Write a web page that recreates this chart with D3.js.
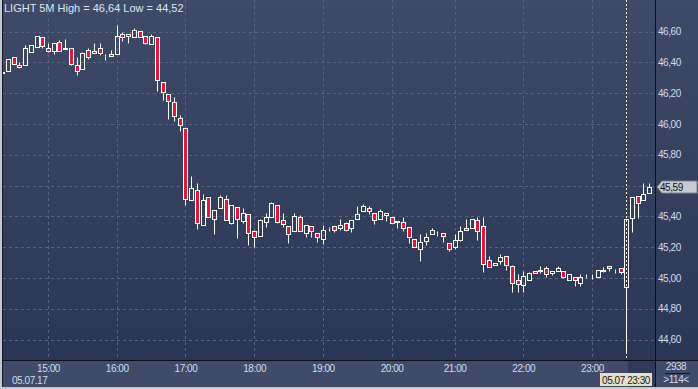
<!DOCTYPE html>
<html><head><meta charset="utf-8">
<script src="https://cdn.jsdelivr.net/npm/d3@7"></script>
<style>
html,body{margin:0;padding:0;background:#3f4b68;overflow:hidden}
svg{display:block}
text{font-family:"Liberation Sans",Arial,sans-serif;font-size:10px;letter-spacing:-0.45px}
text.title{font-size:11px;letter-spacing:0}
</style>
</head><body>
<svg id="c" width="698" height="389"></svg>
<script>
// ---- data (5-minute candles) ----
const opens=[46.33,46.345,46.433,46.38,46.38,46.47,46.497,46.562,46.49,46.471,
46.53,46.488,46.491,46.38,46.358,46.478,46.458,46.491,46.44,46.454,
46.456,46.584,46.571,46.566,46.603,46.571,46.519,46.562,46.27,46.192,
46.14,46.04,45.971,45.504,45.569,45.342,45.523,45.38,45.452,45.51,
45.358,45.462,45.369,45.413,45.303,45.27,45.361,45.397,45.471,45.374,
45.335,45.302,45.393,45.29,45.335,45.29,45.251,45.322,45.335,45.322,
45.355,45.322,45.38,45.432,45.452,45.419,45.38,45.41,45.393,45.361,
45.361,45.332,45.251,45.19,45.242,45.283,45.29,45.29,45.227,45.203,
45.246,45.322,45.322,45.376,45.335,45.116,45.082,45.112,45.14,45.077,
44.984,44.952,44.986,45.043,45.043,45.062,45.03,45.047,45.043,44.988,
45.004,44.967,45.008,44.993,45.004,45.043,45.077,45.043,45.062,44.943,
45.391,45.532,45.504,45.549];
const highs=[46.345,46.42,46.433,46.40,46.51,46.51,46.571,46.562,46.523,46.523,
46.545,46.551,46.491,46.433,46.47,46.493,46.523,46.523,46.454,46.48,
46.642,46.60,46.582,46.62,46.603,46.571,46.584,46.562,46.27,46.192,
46.173,46.058,45.971,45.662,45.614,45.545,45.523,45.439,45.536,45.536,
45.471,45.462,45.456,45.413,45.311,45.38,45.424,45.49,45.471,45.42,
45.335,45.42,45.41,45.342,45.335,45.29,45.342,45.332,45.335,45.38,
45.365,45.374,45.467,45.48,45.467,45.419,45.445,45.419,45.393,45.371,
45.393,45.332,45.251,45.285,45.29,45.322,45.307,45.29,45.227,45.283,
45.337,45.382,45.38,45.393,45.398,45.142,45.097,45.153,45.14,45.086,
45.023,45.043,45.04,45.043,45.075,45.077,45.043,45.077,45.043,45.027,
45.004,45.027,45.027,45.027,45.049,45.069,45.077,45.055,45.062,45.38,
45.525,45.532,45.614,45.614];
const lows=[46.325,46.345,46.39,46.365,46.38,46.47,46.497,46.493,46.467,46.456,
46.475,46.488,46.385,46.318,46.358,46.42,46.458,46.45,46.413,46.44,
46.456,46.54,46.527,46.566,46.562,46.519,46.519,46.216,46.155,46.03,
46.021,45.956,45.471,45.504,45.32,45.342,45.396,45.283,45.452,45.376,
45.35,45.26,45.358,45.212,45.203,45.27,45.333,45.393,45.355,45.333,
45.229,45.302,45.302,45.268,45.264,45.235,45.22,45.302,45.30,45.311,
45.305,45.30,45.38,45.432,45.415,45.35,45.38,45.371,45.354,45.322,
45.307,45.229,45.203,45.112,45.212,45.283,45.27,45.231,45.177,45.19,
45.242,45.309,45.322,45.246,45.04,45.073,45.082,45.09,45.053,44.91,
44.91,44.91,44.986,45.03,45.03,45.008,45.02,45.047,44.997,44.988,
44.949,44.949,44.997,44.993,45.004,45.036,45.047,45.03,45.027,44.52,
45.3,45.391,45.504,45.549];
const closes=[46.34,46.42,46.39,46.367,46.49,46.51,46.571,46.506,46.475,46.523,
46.475,46.492,46.391,46.345,46.458,46.436,46.471,46.458,46.441,46.44,
46.571,46.562,46.582,46.608,46.562,46.527,46.571,46.283,46.209,46.151,
46.051,45.99,45.51,45.582,45.354,45.504,45.396,45.439,45.523,45.376,
45.471,45.38,45.419,45.291,45.264,45.374,45.393,45.484,45.361,45.352,
45.283,45.40,45.302,45.342,45.302,45.264,45.309,45.322,45.309,45.342,
45.309,45.374,45.413,45.465,45.432,45.374,45.434,45.419,45.354,45.371,
45.322,45.267,45.203,45.231,45.264,45.309,45.29,45.27,45.19,45.244,
45.303,45.309,45.38,45.307,45.092,45.073,45.097,45.136,45.082,44.969,
44.962,45.012,45.03,45.03,45.051,45.023,45.043,45.062,45.008,45.027,
44.984,45.006,45.008,44.993,45.049,45.049,45.062,45.043,45.038,45.38,
45.525,45.488,45.545,45.59];
const startTime="14:20";
const missingSlots=["20:30"];
const priceTicks=[44.6,44.8,45.0,45.2,45.4,45.6,45.8,46.0,46.2,46.4,46.6];
const titleText="LIGHT 5M High = 46,64 Low = 44,52";
const dateText="05.07.17";
const cursorTime="23:30";
const cursorText="05.07 23:30";
const lastPrice=45.59;
const barCountText="2938";
const visibleText=">114<";

// ---- build time categories ----
const times=[];
{ let [h,m]=startTime.split(":").map(Number); let t=h*60+m;
  while(times.length<opens.length){
    const s=String(Math.floor(t/60)).padStart(2,"0")+":"+String(t%60).padStart(2,"0");
    if(!missingSlots.includes(s)) times.push(s);
    t+=5;
  } }
const candles=times.map((t,i)=>({t,o:opens[i],h:highs[i],l:lows[i],c:closes[i]}));
const hourTimes=times.filter(t=>t.endsWith(":00"));

const W=698,H=389, plotL=3, plotR=655, plotB=360;
const svg=d3.select("#c");
const defs=svg.append("defs");
const g=defs.append("linearGradient").attr("id","bg").attr("x1",0).attr("y1",0).attr("x2",0).attr("y2",1);
g.append("stop").attr("offset","0%").attr("stop-color","#3e4a67");
g.append("stop").attr("offset","100%").attr("stop-color","#2a3655");
defs.append("clipPath").attr("id","plot").append("rect").attr("x",plotL).attr("y",0).attr("width",plotR-plotL).attr("height",plotB);

svg.append("rect").attr("width",W).attr("height",plotB).attr("fill","url(#bg)");
svg.append("rect").attr("y",plotB).attr("width",W).attr("height",H-plotB).attr("fill","#3f4b68");

const x=d3.scalePoint().domain(times).range([2.2,649.2]);
const y=d3.scaleLinear().domain([44.6,46.6]).range([339.5,31.5]);
const px=v=>Math.round(v)+0.5;

const plot=svg.append("g").attr("clip-path","url(#plot)");
// gridlines
plot.selectAll(".hg").data(priceTicks).join("line")
  .attr("x1",plotL).attr("x2",plotR).attr("y1",d=>px(y(d))).attr("y2",d=>px(y(d)))
  .attr("stroke","#56627e").attr("stroke-dasharray","3,3");
plot.selectAll(".vg").data(hourTimes).join("line")
  .attr("x1",d=>px(x(d))).attr("x2",d=>px(x(d))).attr("y1",0).attr("y2",plotB)
  .attr("stroke","#56627e").attr("stroke-dasharray","3,3");

// cursor line
plot.append("line").attr("x1",px(x(cursorTime))).attr("x2",px(x(cursorTime)))
  .attr("y1",0).attr("y2",plotB).attr("stroke","#ffffff").attr("stroke-dasharray","2,2");

// candles
const cg=plot.selectAll(".cd").data(candles).join("g");
cg.each(function(d){
  const s=d3.select(this);
  const cx=Math.round(x(d.t));
  const top=px(y(Math.max(d.o,d.c))), bot=px(y(Math.min(d.o,d.c)));
  const hy=px(y(d.h)), ly=px(y(d.l));
  if(hy<top) s.append("line").attr("x1",cx+0.5).attr("x2",cx+0.5).attr("y1",hy).attr("y2",top).attr("stroke","#fff");
  if(ly>bot) s.append("line").attr("x1",cx+0.5).attr("x2",cx+0.5).attr("y1",bot).attr("y2",ly).attr("stroke","#fff");
  s.append("rect").attr("x",cx-1.5).attr("width",4).attr("y",top).attr("height",Math.max(0,bot-top))
    .attr("fill",d.c<d.o?"#e3163c":"none").attr("stroke","#fff").attr("stroke-width",1);
});

// axes
const fmt=v=>d3.format(".2f")(v).replace(".",",");
const labelTicks=priceTicks.filter(v=>Math.abs(v-lastPrice)>0.05);
const ya=svg.append("g").attr("transform",`translate(${plotR},0)`)
  .call(d3.axisRight(y).tickValues(labelTicks).tickSize(0).tickPadding(3).tickFormat(fmt));
ya.select(".domain").remove();
ya.attr("font-family",null).attr("font-size",null);
ya.selectAll("text").attr("fill","#cfdbef");

const xa=svg.append("g").attr("transform",`translate(0,${plotB})`)
  .call(d3.axisBottom(x).tickValues(hourTimes).tickSize(0).tickPadding(5));
xa.select(".domain").remove();
xa.attr("font-family",null).attr("font-size",null);
xa.selectAll("text").attr("fill","#cfdbef");

// highlighted cursor zone on time axis
svg.append("rect").attr("x",628).attr("y",plotB+1).attr("width",plotR-628).attr("height",H-plotB-3).attr("fill","#2e3a57");
// cursor date box
svg.append("rect").attr("x",600).attr("y",373).attr("width",52).attr("height",13).attr("fill","#e4e0c6");
svg.append("text").attr("x",626).attr("y",383.5).attr("text-anchor","middle").attr("fill","#1a1a22").text(cursorText);

svg.append("text").attr("x",12).attr("y",384).attr("fill","#cfdbef").text(dateText);

// frame lines
svg.append("line").attr("x1",plotR+0.5).attr("x2",plotR+0.5).attr("y1",0).attr("y2",H).attr("stroke","#0c0f18");
svg.append("line").attr("x1",plotL).attr("x2",W).attr("y1",plotB+0.5).attr("y2",plotB+0.5).attr("stroke","#0c0f18");
svg.append("rect").attr("x",0).attr("y",0).attr("width",2).attr("height",H).attr("fill","#c4c8cf");
svg.append("line").attr("x1",2.5).attr("x2",2.5).attr("y1",0).attr("y2",H-2).attr("stroke","#141a28");
svg.append("rect").attr("x",0).attr("y",H-2).attr("width",W).attr("height",2).attr("fill","#c4c8cf");

// last price marker
const ly0=y(lastPrice);
svg.append("path").attr("d",`M${plotR+2},${ly0} L${plotR+7},${ly0-6} H${W-1} V${ly0+6} H${plotR+7} Z`)
  .attr("fill","#c5cad3").attr("stroke","#7d8493");
svg.append("text").attr("x",plotR+5).attr("y",ly0).attr("dy","0.35em").attr("fill","#111").text(fmt(lastPrice));

// bottom-right info
svg.append("text").attr("x",676).attr("y",370).attr("text-anchor","middle").attr("fill","#cfdbef").text(barCountText);
svg.append("line").attr("x1",665).attr("x2",690).attr("y1",373.5).attr("y2",373.5).attr("stroke","#101522");
svg.append("text").attr("x",676).attr("y",383).attr("text-anchor","middle").attr("fill","#cfdbef").text(visibleText);

// title
svg.append("text").attr("class","title").attr("x",4).attr("y",12).attr("fill","#dfe6f2").text(titleText);
</script>
</body></html>
